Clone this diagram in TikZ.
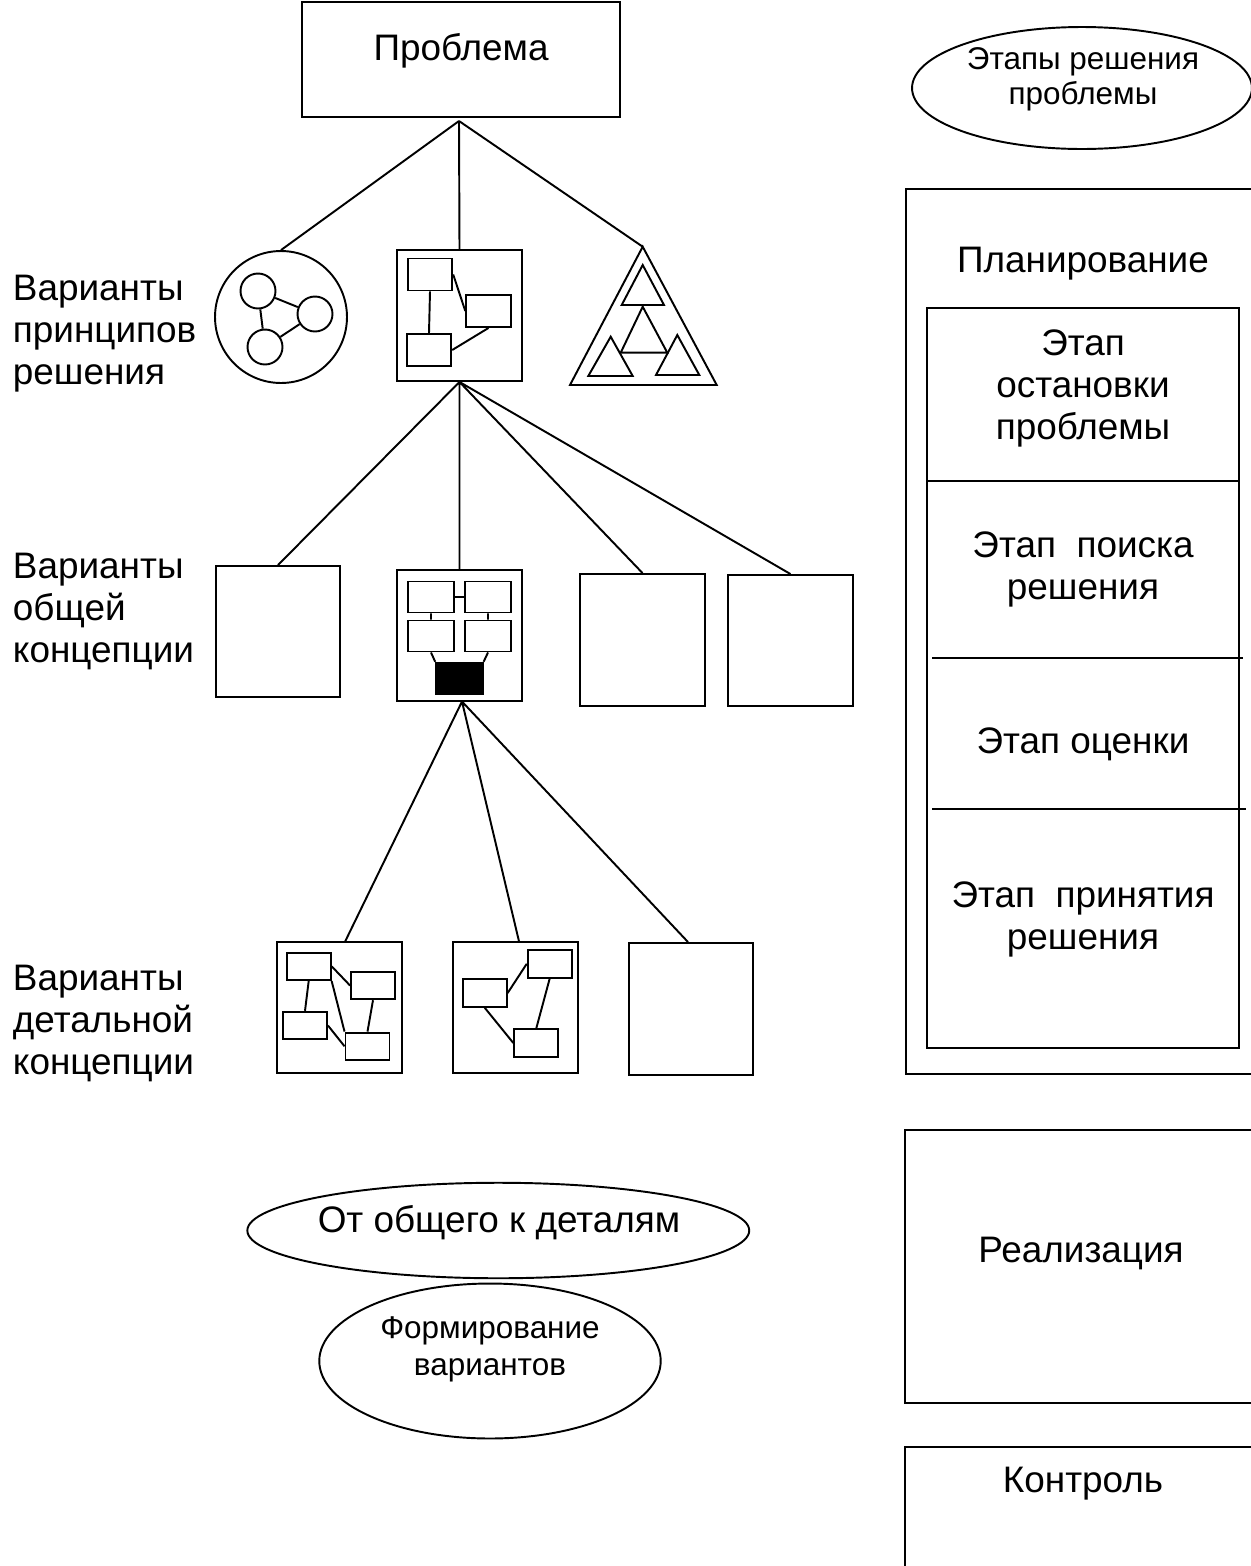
\documentclass[tikz,border=0pt]{standalone}
\usepackage{fontspec}
\setmainfont{Liberation Sans}
\usetikzlibrary{shapes.geometric}

\begin{document}
\begin{tikzpicture}[x=0.02cm, y=-0.02cm, line width=1.1pt,
  big/.style={font=\fontsize{21}{23.8}\selectfont, inner sep=0pt},
  small/.style={font=\fontsize{17.9}{20.4}\selectfont, inner sep=0pt},
  frame/.style={draw, rectangle, inner sep=0pt},
  icon/.style={frame, minimum width=2.5cm, minimum height=2.62cm},
  cell/.style={frame, minimum width=0.89cm, minimum height=0.64cm},
  tinycell/.style={frame, minimum width=0.88cm, minimum height=0.55cm},
  dot/.style={draw, circle, inner sep=0pt, minimum size=0.7cm},
  oval/.style={draw, ellipse, inner sep=0pt}
]
\useasboundingbox (0,0) rectangle (1251,1566);
\clip (0,0) rectangle (1251,1566);

% Multi-line text nodes are placed by the baseline of their last line.

% ---------- problem and first level ----------
\node[frame, minimum width=6.36cm, minimum height=2.3cm] (prob) at (461,59.5) {};
\node[big, anchor=base] (tprob) at (461,60) {Проблема};
\coordinate (fork1) at (459,121);

% principle variant 1: circle of circles
\node[draw, circle, inner sep=0pt, minimum size=2.64cm] (circ) at (281,317) {};
\node[dot] (c1) at (258,291) {};
\node[dot] (c2) at (315,314) {};
\node[dot] (c3) at (265,347) {};
\draw (c1) -- (c2) (c1) -- (c3) (c3) -- (c2);

% principle variant 2: block scheme
\node[icon] (pb) at (459.5,315.5) {};
\node[cell] (p1) at (430,274.5) {};
\node[cell] (p2) at (488.5,311) {};
\node[cell] (p3) at (429,350) {};
\draw (p1.south) -- (p3.north) (p1.east) -- (p2.west) (p2.south) -- (p3.east);

% principle variant 3: triangle of triangles
\coordinate (tri) at (642.7,246.7);
\draw (tri) -- (570,385) -- (716.7,385) -- cycle;
\draw (642.7,265) -- (621.7,305) -- (664,305) -- cycle;
\draw (642.7,306.7) -- (620.7,352.7) -- (667.3,352.7) -- cycle;
\draw (610.7,336.7) -- (588.3,376) -- (632.7,376) -- cycle;
\draw (677.3,335) -- (656,375) -- (699.3,375) -- cycle;

\draw (fork1) -- (circ.north) (fork1) -- (pb.north) (fork1) -- (tri);

% ---------- general concept level ----------
\node[frame, minimum width=2.48cm, minimum height=2.62cm] (gA) at (278,631.5) {};
\node[frame, minimum width=2.49cm, minimum height=2.61cm] (gB) at (459.5,635.3) {};
\node[frame, minimum width=2.5cm, minimum height=2.64cm] (gC) at (642.5,640) {};
\node[frame, minimum width=2.5cm, minimum height=2.62cm] (gD) at (790.5,640.5) {};

\node[frame, minimum width=0.92cm, minimum height=0.62cm] (g1) at (431,597) {};
\node[frame, minimum width=0.92cm, minimum height=0.62cm] (g2) at (488,597) {};
\node[frame, minimum width=0.92cm, minimum height=0.62cm] (g3) at (431,636) {};
\node[frame, minimum width=0.92cm, minimum height=0.62cm] (g4) at (488,636) {};
\node[frame, fill=black, minimum width=0.93cm, minimum height=0.63cm] (gk) at (459.4,678.5) {};
\draw (g1.east) -- (g2.west) (g1.south) -- (g3.north) (g2.south) -- (g4.north)
      (g3.south) -- (gk.north west) (g4.south) -- (gk.north east);

\draw (pb.south) -- (gA.north) (pb.south) -- (gB.north)
      (pb.south) -- (gC.north) (pb.south) -- (gD.north);

% ---------- detailed concept level ----------
\node[icon] (dE) at (339.2,1007.8) {};
\node[icon] (dF) at (515.8,1007.8) {};
\node[frame, minimum width=2.48cm, minimum height=2.64cm] (dG) at (691,1009) {};

\node[tinycell] (e1) at (308.7,966.3) {};
\node[tinycell] (e2) at (373,985.5) {};
\node[tinycell] (e3) at (305,1025.5) {};
\node[tinycell] (e4) at (367.5,1046.3) {};
\draw (e1.east) -- (e2.west) (e1.south) -- (e3.north) (e1.south east) -- (e4.north west)
      (e3.east) -- (e4.west) (e2.south) -- (e4.north);

\node[tinycell] (f1) at (549.7,963.8) {};
\node[tinycell] (f2) at (484.7,993) {};
\node[tinycell] (f3) at (536.3,1043) {};
\draw (f2.east) -- (f1.west) (f2.south) -- (f3.west) (f1.south) -- (f3.north);

\coordinate (fork3) at ([xshift=0.05cm]gB.south);
\draw (fork3) -- ([xshift=0.12cm]dE.north) (fork3) -- ([xshift=0.064cm]dF.north)
      (fork3) -- ([xshift=-0.06cm]dG.north);

% ---------- level captions ----------
\node[big, anchor=base west, align=left] (lv1) at (12,384) {Варианты\\принципов\\решения};
\node[big, anchor=base west, align=left] (lv2) at (12,662) {Варианты\\общей\\концепции};
\node[big, anchor=base west, align=left] (lv3) at (12,1074) {Варианты\\детальной\\концепции};

% ---------- bottom ovals ----------
\node[oval, minimum width=10.04cm, minimum height=1.91cm] (ogen) at (498.3,1230.5) {};
\node[big, anchor=base] (togen) at (499,1232) {От общего к деталям};
\node[oval, minimum width=6.83cm, minimum height=3.1cm] (oform) at (490,1361) {};
\node[small, anchor=base, align=center, font=\fontsize{17.9}{20.8}\selectfont] (toform) at (490,1375) {Формирование\\вариантов};

% ---------- stages column ----------
\node[oval, minimum width=6.8cm, minimum height=2.44cm] (stages) at (1082,88) {};
\node[small, anchor=base, align=center, font=\fontsize{17.9}{19.7}\selectfont] (tstages) at (1083,104) {Этапы решения\\проблемы};

\node[frame, anchor=north west, minimum width=7.4cm, minimum height=17.7cm] (plan) at (905,188) {};
\node[big, anchor=base] (tplan) at (1083,272) {Планирование};
\node[frame, anchor=north west, minimum width=6.252cm, minimum height=14.8cm] (steps) at (925.7,306.7) {};
\draw (928,481) -- (1239,481);
\draw (932,658.3) -- (1243,658.3);
\draw (932,809.3) -- (1246,809.3);
\node[big, anchor=base, align=center] (s1) at (1083,439) {Этап\\остановки\\проблемы};
\node[big, anchor=base, align=center] (s2) at (1083,599) {Этап\ \ поиска\\решения};
\node[big, anchor=base] (s3) at (1083,753) {Этап оценки};
\node[big, anchor=base, align=center] (s4) at (1083,949) {Этап\ \ принятия\\решения};

\node[frame, anchor=north west, minimum width=7.4cm, minimum height=5.454cm] (real) at (904.3,1129) {};
\node[big, anchor=base] (treal) at (1081,1262) {Реализация};
\node[frame, anchor=north west, minimum width=7.4cm, minimum height=4cm] (ctrl) at (904.3,1445.7) {};
\node[big, anchor=base] (tctrl) at (1083,1492) {Контроль};
\end{tikzpicture}
\end{document}
